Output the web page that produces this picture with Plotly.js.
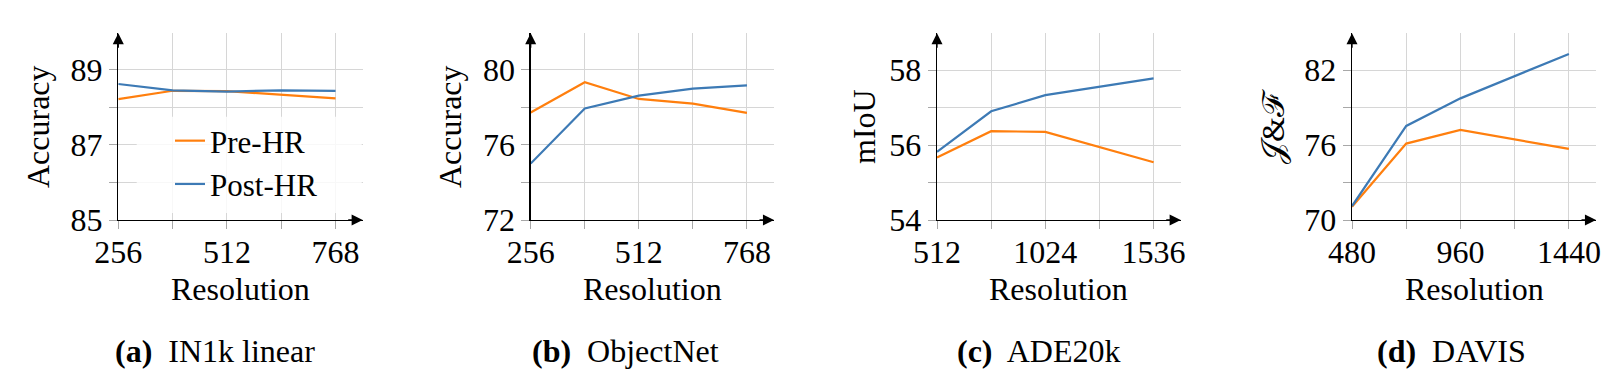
<!DOCTYPE html>
<html><head><meta charset="utf-8">
<script src="https://cdn.plot.ly/plotly-3.0.1.min.js"></script>
<style>
html,body{margin:0;padding:0;background:#fff}
#chart{width:1617px;height:379px}
</style>
</head><body><div id="chart"></div>
<script>
// ---- data ----
const resA = [256, 384, 512, 640, 768];
const preA = [88.22, 88.44, 88.43, 88.34, 88.24];
const postA = [88.62, 88.45, 88.42, 88.45, 88.44];

const resB = [256, 384, 512, 640, 768];
const preB = [77.73, 79.34, 78.45, 78.20, 77.71];
const postB = [75.01, 77.94, 78.63, 79.00, 79.18];

const resC = [512, 768, 1024, 1536];
const preC = [55.67, 56.37, 56.35, 55.54];
const postC = [55.82, 56.90, 57.33, 57.78];

const resD = [480, 720, 960, 1440];
const preD = [71.06, 76.12, 77.21, 75.69];
const postD = [71.12, 77.53, 79.74, 83.30];

const seriesNames = ["Pre-HR", "Post-HR"];
const yTitles = ["Accuracy", "Accuracy", "mIoU", "𝒥&amp;ℱ"];
const captions = ["<b>(a)</b>  IN1k linear", "<b>(b)</b>  ObjectNet", "<b>(c)</b>  ADE20k", "<b>(d)</b>  DAVIS"];
const xTitle = "Resolution";

// ---- style ----
const W = 1617, H = 379;
const ORANGE = "#ff7f0e", BLUE = "#3d7ab5";
const FONT = "Liberation Serif";
const FS = 32;
const GRID = "#d6d6d6", TICKC = "#a8a8a8";

const panels = [
  {res: resA, pre: preA, post: postA, xr: [256, 832], yr: [85, 89.97], xd: 256, xm: 128, yd: 2, ym: 1, px: [118.3, 362.7], yT: 38, cap: 214.5},
  {res: resB, pre: preB, post: postB, xr: [256, 832], yr: [72, 81.95], xd: 256, xm: 128, yd: 4, ym: 2, px: [530.7, 774], yT: 450, cap: 625.5},
  {res: resC, pre: preC, post: postC, xr: [512, 1664], yr: [54, 58.98], xd: 512, xm: 256, yd: 2, ym: 1, px: [937, 1180.7], yT: 864, cap: 1038.7},
  {res: resD, pre: preD, post: postD, xr: [480, 1560], yr: [70, 84.95], xd: 480, xm: 240, yd: 6, ym: 3, px: [1352, 1596], yT: 1273, cap: 1451}
];
const yTop = 33.3, yBot = 220;

const data = [];
const layout = {
  width: W, height: H,
  margin: {l: 0, r: 0, t: 0, b: 0},
  paper_bgcolor: "#fff", plot_bgcolor: "rgba(0,0,0,0)",
  font: {family: FONT, size: FS, color: "#000"},
  showlegend: true,
  legend: {
    x: 170 / W, y: 1 - 114 / H, xanchor: "left", yanchor: "top",
    bgcolor: "rgba(0,0,0,0)", borderwidth: 0,
    font: {family: FONT, size: FS - 1, color: "#000"},
    tracegroupgap: 0
  },
  annotations: [],
  shapes: [
    // legend background panel
    {type: "rect", xref: "paper", yref: "paper", x0: 136.7 / W, x1: 361.7 / W, y0: 1 - 213 / H, y1: 1 - 116.7 / H,
      fillcolor: "rgba(255,255,255,0.82)", line: {width: 0}, layer: "above"}
  ]
};

panels.forEach((p, i) => {
  const n = i === 0 ? "" : String(i + 1);
  const xa = "x" + n, ya = "y" + n;
  data.push({x: p.res, y: p.pre, xaxis: xa, yaxis: ya, type: "scatter", mode: "lines",
    name: seriesNames[0], legendgroup: "pre", showlegend: i === 0, line: {color: ORANGE, width: 2.2}});
  data.push({x: p.res, y: p.post, xaxis: xa, yaxis: ya, type: "scatter", mode: "lines",
    name: seriesNames[1], legendgroup: "post", showlegend: i === 0, line: {color: BLUE, width: 2.2}});

  const common = {
    showline: true, linecolor: "#000", linewidth: 1.3, zeroline: false,
    showgrid: true, gridcolor: GRID, gridwidth: 1,
    ticks: "outside", ticklen: 8, tickcolor: TICKC, tickwidth: 1,
    tickfont: {family: FONT, size: FS, color: "#000"}, fixedrange: true
  };
  layout["xaxis" + n] = Object.assign({}, common, {
    domain: [p.px[0] / W, p.px[1] / W], anchor: ya, range: p.xr,
    tick0: p.xr[0], dtick: p.xd, ticklabelstandoff: -5,
    minor: {dtick: p.xm, tick0: p.xr[0], showgrid: true, gridcolor: GRID, ticks: "outside", ticklen: 8, tickcolor: TICKC}
  });
  layout["yaxis" + n] = Object.assign({}, common, {
    domain: [1 - yBot / H, 1 - yTop / H], anchor: xa, range: p.yr,
    tick0: p.yr[0], dtick: p.yd,
    minor: {dtick: p.ym, tick0: p.yr[0], showgrid: true, gridcolor: GRID, ticks: "outside", ticklen: 8, tickcolor: TICKC}
  });

  // arrowheads on axes
  layout.annotations.push({xref: xa + " domain", yref: ya + " domain", x: 1, y: 0, ax: -16, ay: 0,
    axref: "pixel", ayref: "pixel", text: "", showarrow: true, arrowhead: 2, arrowsize: 1.7, arrowwidth: 1.3, arrowcolor: "#000", standoff: 0});
  layout.annotations.push({xref: xa + " domain", yref: ya + " domain", x: 0, y: 1, ax: 0, ay: 16,
    axref: "pixel", ayref: "pixel", text: "", showarrow: true, arrowhead: 2, arrowsize: 1.7, arrowwidth: 1.3, arrowcolor: "#000", standoff: 0});

  // x title
  layout.annotations.push({xref: "paper", yref: "paper", x: ((p.px[0] + p.px[1]) / 2) / W, y: 1 - 289 / H,
    text: xTitle, showarrow: false, xanchor: "center", yanchor: "middle", font: {family: FONT, size: FS}});
  // y title
  layout.annotations.push({xref: "paper", yref: "paper", x: p.yT / W, y: 1 - 127 / H,
    text: yTitles[i], showarrow: false, textangle: -90, xanchor: "center", yanchor: "middle", font: {family: FONT, size: FS}});
  // caption
  layout.annotations.push({xref: "paper", yref: "paper", x: p.cap / W, y: 1 - 351 / H,
    text: captions[i], showarrow: false, xanchor: "center", yanchor: "middle", font: {family: FONT, size: FS}});
});

Plotly.newPlot("chart", data, layout, {displayModeBar: false, staticPlot: true});
</script></body></html>
